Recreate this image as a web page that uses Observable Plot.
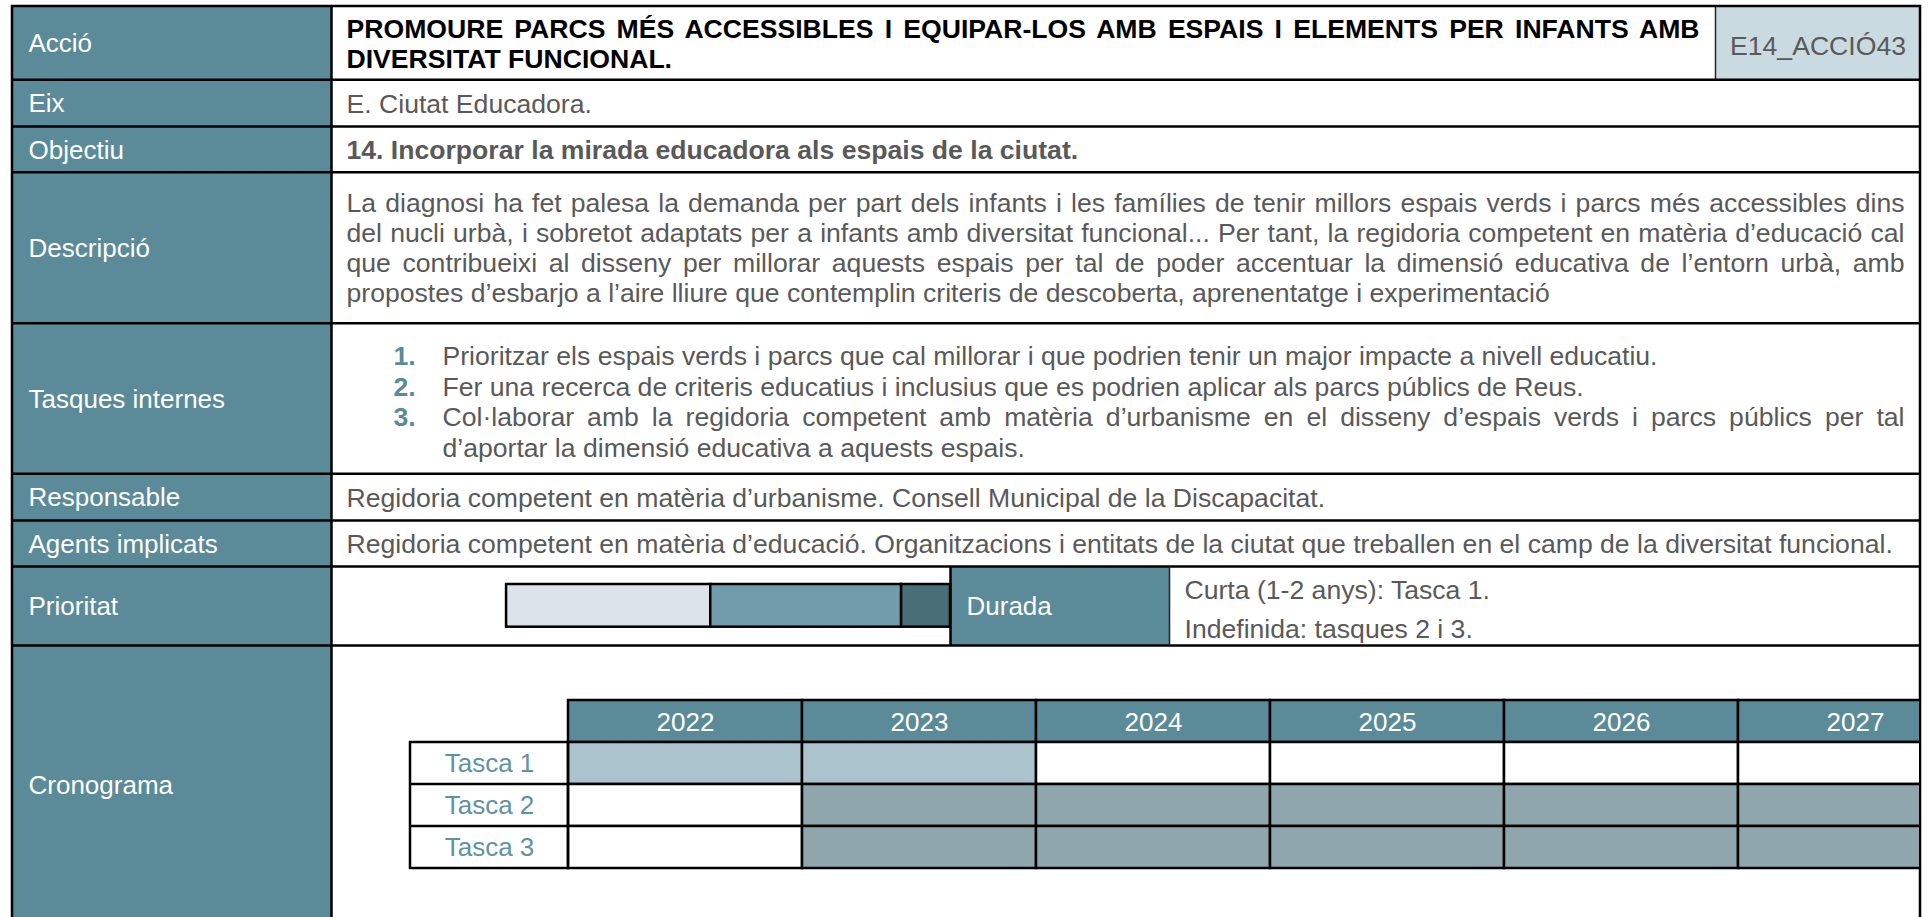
<!DOCTYPE html>
<html>
<head>
<meta charset="utf-8">
<script src="https://cdn.jsdelivr.net/npm/d3@7"></script>
<script src="https://cdn.jsdelivr.net/npm/@observablehq/plot@0.6"></script>
<style>
  html, body { margin: 0; padding: 0; background: #fff; }
  #wrap { position: relative; width: 1928px; height: 917px; overflow: hidden; background: #fff; }
  #wrap svg { position: absolute; overflow: visible; }
  #clip { position: absolute; left: 0; top: 0; width: 1919px; height: 917px; overflow: hidden; }
</style>
</head>
<body>
<div id="wrap"><div id="clip"></div></div>
<script>
// ---------------- DATA ----------------
const rowLabels = ["Acció", "Eix", "Objectiu", "Descripció", "Tasques internes", "Responsable", "Agents implicats", "Prioritat", "Cronograma"];
const actionTitle = [
  "PROMOURE PARCS MÉS ACCESSIBLES I EQUIPAR-LOS AMB ESPAIS I ELEMENTS PER INFANTS AMB",
  "DIVERSITAT FUNCIONAL."
];
const actionCode = "E14_ACCIÓ43";
const eixText = "E. Ciutat Educadora.";
const objectiuText = "14. Incorporar la mirada educadora als espais de la ciutat.";
const descripcioLines = [
  "La diagnosi ha fet palesa la demanda per part dels infants i les famílies de tenir millors espais verds i parcs més accessibles dins",
  "del nucli urbà, i sobretot adaptats per a infants amb diversitat funcional... Per tant, la regidoria competent en matèria d’educació cal",
  "que contribueixi al disseny per millorar aquests espais per tal de poder accentuar la dimensió educativa de l’entorn urbà, amb",
  "propostes d’esbarjo a l’aire lliure que contemplin criteris de descoberta, aprenentatge i experimentació"
];
const tasquesNums = ["1.", "2.", "3.", ""];
const tasquesLines = [
  "Prioritzar els espais verds i parcs que cal millorar i que podrien tenir un major impacte a nivell educatiu.",
  "Fer una recerca de criteris educatius i inclusius que es podrien aplicar als parcs públics de Reus.",
  "Col·laborar amb la regidoria competent amb matèria d’urbanisme en el disseny d’espais verds i parcs públics per tal",
  "d’aportar la dimensió educativa a aquests espais."
];
const responsableText = "Regidoria competent en matèria d’urbanisme. Consell Municipal de la Discapacitat.";
const agentsText = "Regidoria competent en matèria d’educació. Organitzacions i entitats de la ciutat que treballen en el camp de la diversitat funcional.";
const prioritatLevels = ["Baixa", "Mitjana", "Alta"];
const prioritatValues = [46, 43, 11];
const duradaLabel = "Durada";
const duradaLines = ["Curta (1-2 anys): Tasca 1.", "Indefinida: tasques 2 i 3."];
const years = [2022, 2023, 2024, 2025, 2026, 2027];
const tasks = ["Tasca 1", "Tasca 2", "Tasca 3"];
const taskStart = [2022, 2023, 2023];
const taskEnd = [2023, 2027, 2027];
const taskDuration = ["curta", "indefinida", "indefinida"];

// ---------------- STYLE & LAYOUT ----------------
const FONT = '"Liberation Sans", Arial, Helvetica, sans-serif';
const FS = 26.6;
const FS_LABEL = 26;
const FS_GANTT = 26;
const TEAL = "#5b8a99";
const GRAY = "#595959";
const TASK_TEXT = "#5f92a2";
const CODE_FILL = "#c9dbe0";
const PRIO_COLORS = ["#dce4ea", "#719cab", "#486e78"];
const GANTT_COLORS = ["#ffffff", "#aac3cc", "#8fa6ad"];
const LINE = 2.5;

const L = {
  left: 12, right: 1920, top: 6,
  labelRight: 331, labelX: 28, contentX: 346, textRight: 1904,
  rowHeights: [73.3, 46.7, 45.7, 151, 150.6, 46.7, 46, 79, 278],
  dy: 1,
  lh: 30, tasquesLh: 30.5, tasquesDy: 3,
  numX: 393, tasqX: 442,
  codeX1: 1715,
  duradaX1: 950, duradaX2: 1169, duradaTextX: 966, duradaInfoX: 1184, duradaLh: 39, duradaDy: 3,
  prio: {x: 506, y: 584, w: 444, h: 42.7},
  gantt: {x: 410, y: 697.7, labelW: 158, colW: 234, rowH: 42.75}
};

const bounds = [L.top];
for (const h of L.rowHeights) bounds.push(bounds[bounds.length - 1] + h);
const rows = rowLabels.map((label, i) => ({label, y1: bounds[i], y2: bounds[i + 1], yc: (bounds[i] + bounds[i + 1]) / 2 + L.dy}));
const yc = i => rows[i].yc;
const bottom = bounds[bounds.length - 1];

const textBase = {fontFamily: FONT, fontSize: FS, textAnchor: "start"};

// ---------------- MAIN TABLE ----------------
const main = Plot.plot({
  width: 1928, height: 917, margin: 0,
  x: {type: "identity", axis: null},
  y: {type: "identity", axis: null},
  style: {fontFamily: FONT, fontSize: FS + "px", background: "transparent"},
  marks: [
    Plot.rect(rows, {x1: () => L.left, x2: () => L.labelRight, y1: "y1", y2: "y2", fill: TEAL}),
    Plot.rect([actionCode], {x1: () => L.codeX1, x2: () => L.right, y1: () => bounds[0], y2: () => bounds[1], fill: CODE_FILL}),
    Plot.rect([duradaLabel], {x1: () => L.duradaX1, x2: () => L.duradaX2, y1: () => bounds[7], y2: () => bounds[8], fill: TEAL}),
    Plot.ruleY(bounds.slice(1, -1), {x1: () => L.left, x2: () => L.right, stroke: "black", strokeWidth: LINE}),
    Plot.ruleX([L.labelRight], {y1: () => L.top, y2: () => bottom, stroke: "black", strokeWidth: LINE}),
    Plot.ruleX([L.codeX1], {y1: () => bounds[0], y2: () => bounds[1], stroke: "#222", strokeWidth: 1.5}),
    Plot.ruleX([L.duradaX1], {y1: () => bounds[7], y2: () => bounds[8], stroke: "black", strokeWidth: LINE}),
    Plot.ruleX([L.duradaX2], {y1: () => bounds[7], y2: () => bounds[8], stroke: "#222", strokeWidth: 1.5}),
    Plot.rect([0], {x1: () => L.left, x2: () => L.right, y1: () => L.top, y2: () => bottom, fill: "none", stroke: "black", strokeWidth: LINE}),

    // header labels
    Plot.text(rows, {...textBase, fontSize: FS_LABEL, x: () => L.labelX, y: "yc", text: "label", fill: "white"}),
    // Acció
    Plot.text(actionTitle, {...textBase, x: () => L.contentX, y: (d, i) => yc(0) + (i - 0.5) * L.lh, text: d => d, fill: "black", fontWeight: "bold"}),
    Plot.text([actionCode], {...textBase, textAnchor: "middle", x: () => (L.codeX1 + L.right) / 2, y: () => yc(0) + 2, text: d => d, fill: GRAY}),
    // Eix, Objectiu
    Plot.text([eixText], {...textBase, x: () => L.contentX, y: () => yc(1), text: d => d, fill: GRAY}),
    Plot.text([objectiuText], {...textBase, x: () => L.contentX, y: () => yc(2), text: d => d, fill: GRAY, fontWeight: "bold"}),
    // Descripció
    Plot.text(descripcioLines, {...textBase, x: () => L.contentX, y: (d, i) => yc(3) + (i - (descripcioLines.length - 1) / 2) * L.lh, text: d => d, fill: GRAY}),
    // Tasques internes
    Plot.text(tasquesNums, {...textBase, x: () => L.numX, y: (d, i) => yc(4) + L.tasquesDy + (i - 1.5) * L.tasquesLh, text: d => d, fill: TEAL, fontWeight: "bold"}),
    Plot.text(tasquesLines, {...textBase, x: () => L.tasqX, y: (d, i) => yc(4) + L.tasquesDy + (i - 1.5) * L.tasquesLh, text: d => d, fill: GRAY}),
    // Responsable, Agents
    Plot.text([responsableText], {...textBase, x: () => L.contentX, y: () => yc(5), text: d => d, fill: GRAY}),
    Plot.text([agentsText], {...textBase, x: () => L.contentX, y: () => yc(6), text: d => d, fill: GRAY}),
    // Durada
    Plot.text([duradaLabel], {...textBase, fontSize: FS_LABEL, x: () => L.duradaTextX, y: () => yc(7), text: d => d, fill: "white"}),
    Plot.text(duradaLines, {...textBase, x: () => L.duradaInfoX, y: (d, i) => yc(7) + L.duradaDy + (i - 0.5) * L.duradaLh, text: d => d, fill: GRAY})
  ]
});
main.style.left = "0px"; main.style.top = "0px";
document.getElementById("wrap").insertBefore(main, document.getElementById("clip"));

// justified lines (word spacing)
const justify = new Map([
  [actionTitle[0], L.codeX1 - 16 - L.contentX],
  [descripcioLines[0], L.textRight - L.contentX],
  [descripcioLines[1], L.textRight - L.contentX],
  [descripcioLines[2], L.textRight - L.contentX],
  [tasquesLines[2], L.textRight - L.tasqX]
]);
main.querySelectorAll("text").forEach(el => {
  const t = el.textContent;
  if (justify.has(t)) {
    const w = el.getComputedTextLength();
    const n = (t.match(/ /g) || []).length;
    if (n > 0) el.style.wordSpacing = ((justify.get(t) - w) / n) + "px";
  }
});

// ---------------- PRIORITY BAR ----------------
const prio = prioritatLevels.map((nivell, i) => ({nivell, valor: prioritatValues[i]}));
const prioPlot = Plot.plot({
  width: L.prio.w, height: L.prio.h, margin: 0,
  x: {domain: [0, d3.sum(prioritatValues)], axis: null},
  y: {axis: null},
  color: {domain: prioritatLevels, range: PRIO_COLORS},
  style: {background: "transparent"},
  marks: [
    Plot.barX(prio, {x: "valor", fill: "nivell", stroke: "black", strokeWidth: LINE, inset: 0})
  ]
});
prioPlot.style.left = L.prio.x + "px"; prioPlot.style.top = L.prio.y + "px";
document.getElementById("clip").appendChild(prioPlot);

// ---------------- GANTT ----------------
const ganttRows = ["Any", ...tasks];
const cells = tasks.flatMap((task, i) => years.map(year => ({
  task, year, estat: (year >= taskStart[i] && year <= taskEnd[i]) ? taskDuration[i] : "cap"
})));
const G = L.gantt;
const labelColumn = (index, scales, values, dims) => {
  const g = d3.create("svg:g");
  const y = scales.y;
  const bw = y(tasks[1]) - y(tasks[0]);
  const top = y(tasks[0]), bot = y(tasks[tasks.length - 1]) + bw;
  g.append("rect").attr("x", 0).attr("y", top).attr("width", dims.marginLeft).attr("height", bot - top)
    .attr("fill", "none").attr("stroke", "black").attr("stroke-width", LINE);
  for (const t of tasks.slice(1)) {
    g.append("line").attr("x1", 0).attr("x2", dims.marginLeft).attr("y1", y(t)).attr("y2", y(t))
      .attr("stroke", "black").attr("stroke-width", LINE);
  }
  return g.node();
};
const gantt = Plot.plot({
  width: G.labelW + G.colW * years.length,
  height: G.rowH * ganttRows.length,
  marginLeft: G.labelW, marginRight: 0, marginTop: 0, marginBottom: 0,
  x: {type: "band", domain: years, padding: 0, axis: null},
  y: {type: "band", domain: ganttRows, padding: 0, axis: null},
  color: {domain: ["cap", "curta", "indefinida"], range: GANTT_COLORS},
  style: {fontFamily: FONT, fontSize: FS_GANTT + "px", background: "transparent"},
  marks: [
    Plot.cell(years, {x: d => d, y: () => "Any", fill: TEAL, stroke: "black", strokeWidth: LINE, inset: 0}),
    Plot.text(years, {x: d => d, y: () => "Any", text: d => String(d), fill: "white", fontFamily: FONT, fontSize: FS_GANTT, dy: 1}),
    Plot.cell(cells, {x: "year", y: "task", fill: "estat", stroke: "black", strokeWidth: LINE, inset: 0}),
    labelColumn,
    Plot.text(tasks, {y: d => d, frameAnchor: "left", dx: -G.labelW / 2, text: d => d, fill: TASK_TEXT, fontFamily: FONT, fontSize: FS_GANTT, textAnchor: "middle"})
  ]
});
gantt.style.left = G.x + "px"; gantt.style.top = G.y + "px";
document.getElementById("clip").appendChild(gantt);
</script>
</body>
</html>
